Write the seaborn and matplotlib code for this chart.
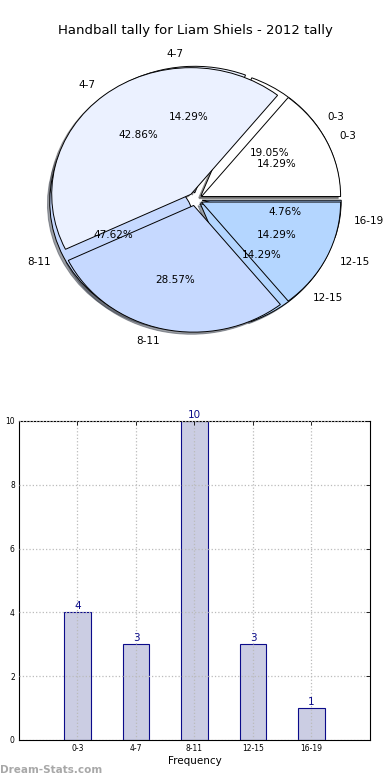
import matplotlib
matplotlib.use("Agg")
import matplotlib.pyplot as plt
import seaborn as sns
import pandas as pd

# ---- data ----
categories = ["0-3", "4-7", "8-11", "12-15", "16-19"]
tally_values = [4, 3, 10, 3, 1]
inner_categories = ["0-3", "4-7", "8-11", "12-15"]
inner_values = [1, 3, 2, 1]
title_text = "Handball tally for Liam Shiels - 2012 tally"
y_ticks = [0, 2, 4, 6, 8, 10]

pie_colors = ["#ffffff", "#ebf1ff", "#c6d9ff", "#b4d6ff", "#a8ccff"]

sns.set_style("white")
plt.rcParams["font.family"] = ["DejaVu Sans"]
plt.rcParams["text.color"] = "black"
plt.rcParams["axes.labelcolor"] = "black"
plt.rcParams["xtick.color"] = "black"
plt.rcParams["ytick.color"] = "black"

fig = plt.figure(figsize=(3.9, 7.8), dpi=100)

# ---- pie ----
ax1 = fig.add_axes([0.0545, 0.5415, 0.892, 0.406])
wp = dict(edgecolor="black", linewidth=0.7)
tp = dict(fontsize=7.5, color="black")
shad = {"ox": -0.012, "oy": -0.012}
ax1.pie(tally_values, labels=categories, autopct="%.2f%%",
        explode=[0.05] * len(tally_values), shadow=shad,
        colors=pie_colors[:len(tally_values)], startangle=0,
        wedgeprops=wp, textprops=tp)
ax1.pie(inner_values, labels=inner_categories, autopct="%.2f%%",
        explode=[0.05] * len(inner_values), shadow=shad,
        colors=pie_colors[:len(inner_values)], startangle=0,
        wedgeprops=wp, textprops=tp)
ax1.set_aspect("auto")
ax1.set_xlim(-1.25, 1.25)
ax1.set_ylim(-1.25, 1.25)
ax1.axis("off")
fig.text(0.5, 0.961, title_text, ha="center", va="center", fontsize=9.5)

# ---- bar ----
ax2 = fig.add_axes([0.0487, 0.0513, 0.9, 0.409])
df = pd.DataFrame({"cat": categories, "val": tally_values})
sns.barplot(data=df, x="cat", y="val", ax=ax2, color="#cbcde3",
            saturation=1, edgecolor="#0b0b8a", linewidth=0.8, width=0.45)
ax2.bar_label(ax2.containers[0], color="#0b0b8a", fontsize=7.5, padding=1)
ax2.set_xlim(-1, 5)
ax2.set_ylim(0, 10)
ax2.set_yticks(y_ticks)
ax2.grid(True, linestyle=":", color="#bbbbbb", linewidth=0.9)
ax2.set_axisbelow(False)
for s in ax2.spines.values():
    s.set_color("black")
    s.set_linewidth(0.8)
ax2.tick_params(direction="in", top=True, right=True, labelsize=5.5,
                length=3, width=0.6, pad=3)
ax2.set_xlabel("Frequency", fontsize=7.5, labelpad=2)
ax2.set_ylabel("Goal Tally Count", fontsize=7, labelpad=3)
fig.text(0.0, 0.006, "Dream-Stats.com", fontsize=7.5, color="#a8a8a8",
         fontweight="bold", ha="left", va="bottom")

fig.savefig("out.png", dpi=100)
